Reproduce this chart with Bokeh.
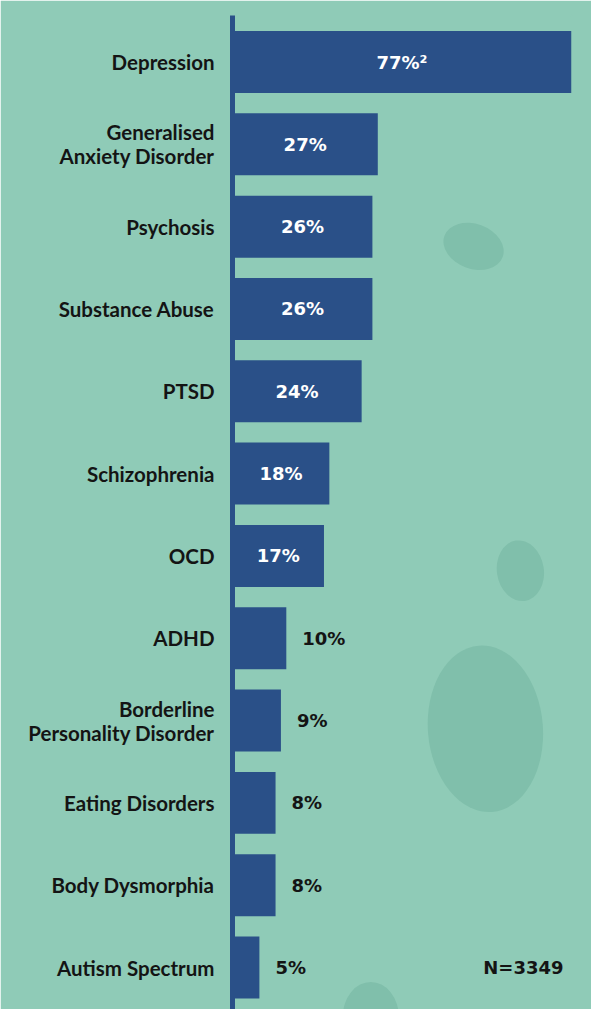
from bokeh.plotting import figure
from bokeh.models import Range1d, FixedTicker, ColumnDataSource
from bokeh.core.properties import value
from bokeh.embed import file_html
from bokeh.resources import INLINE

# ---- data ----
categories = [
    "Depression",
    "Generalised\nAnxiety Disorder",
    "Psychosis",
    "Substance Abuse",
    "PTSD",
    "Schizophrenia",
    "OCD",
    "ADHD",
    "Borderline\nPersonality Disorder",
    "Eating Disorders",
    "Body Dysmorphia",
    "Autism Spectrum",
]
percentages = [77, 27, 26, 26, 24, 18, 17, 10, 9, 8, 8, 5]
value_labels = ["77%\u00b2", "27%", "26%", "26%", "24%", "18%", "17%",
                "10%", "9%", "8%", "8%", "5%"]
sample_note = "N=3349"

# decorative background blobs (data coords)
blob_x = [44.8, 53.5, 47.0, 25.7]
blob_y = [2.24, 6.18, 8.1, 11.6]
blob_w = [62, 47, 115, 56]
blob_h = [45, 61, 167, 70]
blob_a = [-0.35, 0.15, 0.08, 0.0]

# ---- style ----
BG = "#8fcbb7"
BLOB = "#80bfab"
BAR = "#2a5088"
TEXT = "#141414"
X_MAX = 63
INSIDE_MIN = 15

idx = list(range(len(categories)))

p = figure(
    width=591, height=1009,
    output_backend="svg", toolbar_location=None,
    x_range=Range1d(0, X_MAX), y_range=Range1d(11.51, -0.565),
    x_axis_location=None,
    min_border_left=232, min_border_right=20, min_border_top=15, min_border_bottom=0,
    background_fill_color=BG, border_fill_color=BG,
    outline_line_color=BG, outline_line_width=2,
)
p.grid.visible = False

# blobs
p.ellipse(x=blob_x, y=blob_y, width=blob_w, height=blob_h, angle=blob_a,
          width_units="screen", height_units="screen",
          fill_color=BLOB, line_color=None)

# bars
p.hbar(y=idx, left=0, right=percentages, height=0.753,
       fill_color=BAR, line_color=None)

# value labels
inside = ColumnDataSource(dict(
    x=[min(v, X_MAX) / 2 for v in percentages if v >= INSIDE_MIN],
    y=[i for i, v in zip(idx, percentages) if v >= INSIDE_MIN],
    t=[l for l, v in zip(value_labels, percentages) if v >= INSIDE_MIN],
))
outside = ColumnDataSource(dict(
    x=[v for v in percentages if v < INSIDE_MIN],
    y=[i for i, v in zip(idx, percentages) if v < INSIDE_MIN],
    t=[l for l, v in zip(value_labels, percentages) if v < INSIDE_MIN],
))
p.text(x="x", y="y", text="t", source=inside,
       text_align="center", text_baseline="middle",
       text_font=value("DejaVu Sans"), text_font_style="bold",
       text_font_size="18px", text_color="white")
p.text(x="x", y="y", text="t", source=outside, x_offset=16,
       text_align="left", text_baseline="middle",
       text_font=value("DejaVu Sans"), text_font_style="bold",
       text_font_size="18px", text_color=TEXT)

# sample size note
p.text(x=[X_MAX], y=[idx[-1]], text=[sample_note], x_offset=-8,
       text_align="right", text_baseline="middle",
       text_font=value("DejaVu Sans"), text_font_style="bold",
       text_font_size="18px", text_color=TEXT)

# category axis
ax = p.yaxis[0]
ax.ticker = FixedTicker(ticks=idx)
ax.major_label_overrides = {i: c for i, c in zip(idx, categories)}
ax.axis_line_color = BAR
ax.axis_line_width = 5
ax.major_tick_line_color = None
ax.minor_tick_line_color = None
ax.major_tick_out = 0
ax.major_tick_in = 0
ax.major_label_standoff = 18
ax.major_label_text_font = "Lato"
ax.major_label_text_font_style = "bold"
ax.major_label_text_font_size = "20.5px"
ax.major_label_text_color = TEXT
ax.major_label_text_line_height = 1.0

open("out.html", "w").write(file_html(p, INLINE))
